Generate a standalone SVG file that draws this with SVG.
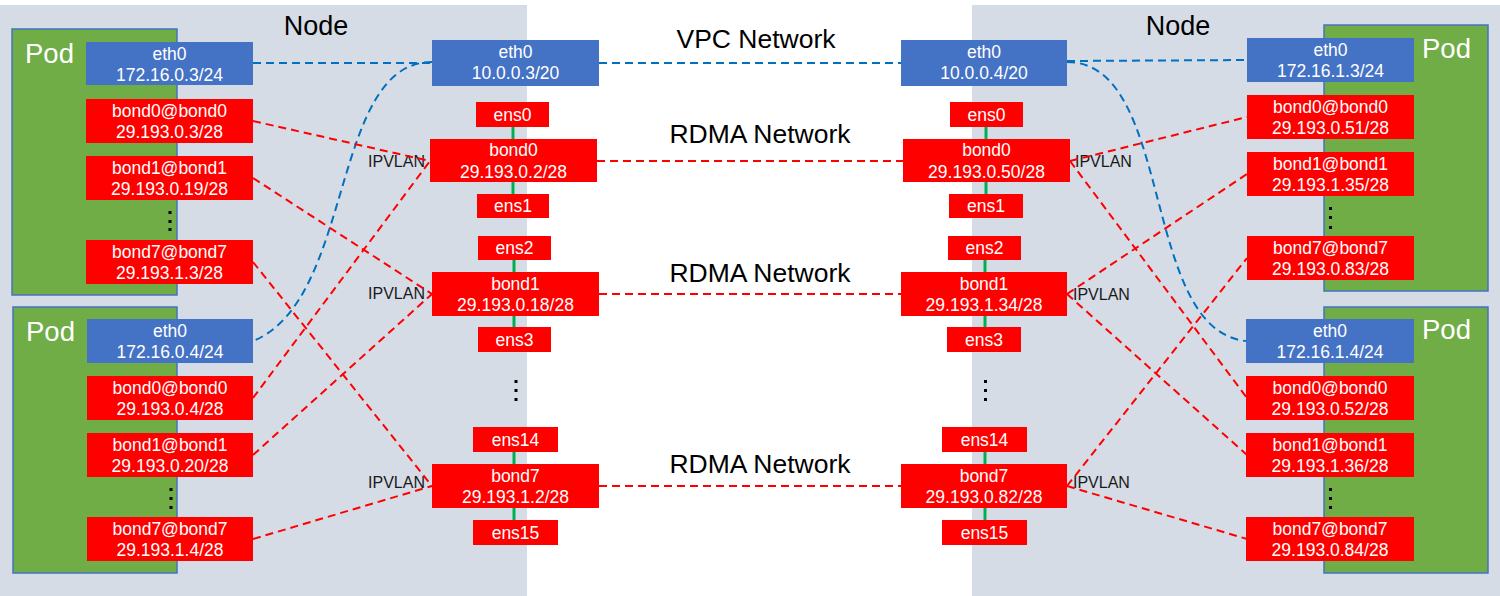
<svg xmlns="http://www.w3.org/2000/svg" width="1500" height="596" viewBox="0 0 1500 596">
<style>
.bg{fill:#D6DCE5}
.pod{fill:#70AD47;stroke:#4472C4;stroke-width:1.5}
.blue{fill:#4472C4}
.red{fill:#FF0000}
.t{font-family:"Liberation Sans",Arial,sans-serif;font-size:17.5px;fill:#FFFFFF;text-anchor:middle}
.podl{font-family:"Liberation Sans",Arial,sans-serif;font-size:27.5px;fill:#FFFFFF}
.nodel{font-family:"Liberation Sans",Arial,sans-serif;font-size:27px;fill:#000000;text-anchor:middle}
.net{font-family:"Liberation Sans",Arial,sans-serif;font-size:26.5px;fill:#000000;text-anchor:middle}
.ipv{font-family:"Liberation Sans",Arial,sans-serif;font-size:16px;fill:#1a1a1a}
.vpc{stroke:#0070C0;stroke-width:2;stroke-dasharray:8 5;fill:none}
.rdma{stroke:#FF0000;stroke-width:2;stroke-dasharray:8 5;fill:none}
.link{stroke:#00B050;stroke-width:3}
.dot{fill:#000000}
</style>
<rect width="1500" height="596" fill="#FFFFFF"/>

<g id="node-left">
<rect class="bg" x="0" y="5" width="527" height="591"/>
<text class="nodel" x="316" y="35">Node</text>
</g>
<g id="node-right">
<rect class="bg" x="972" y="5" width="528" height="591"/>
<text class="nodel" x="1178" y="35">Node</text>
</g>

<g id="pod-left-1">
<rect class="pod" x="12" y="29" width="165" height="266"/>
<text class="podl" x="25" y="63">Pod</text>
<rect class="dot" x="168.5" y="211" width="3" height="3"/>
<rect class="dot" x="168.5" y="220" width="3" height="3"/>
<rect class="dot" x="168.5" y="228" width="3" height="3"/>
</g>
<g id="pod-left-2">
<rect class="pod" x="13" y="307" width="164" height="266"/>
<text class="podl" x="26" y="341">Pod</text>
<rect class="dot" x="169.5" y="488" width="3" height="3"/>
<rect class="dot" x="169.5" y="497" width="3" height="3"/>
<rect class="dot" x="169.5" y="506" width="3" height="3"/>
</g>
<g id="pod-right-1">
<rect class="pod" x="1324" y="25" width="164" height="266"/>
<text class="podl" x="1422" y="58">Pod</text>
<rect class="dot" x="1329" y="207" width="3" height="3"/>
<rect class="dot" x="1329" y="216" width="3" height="3"/>
<rect class="dot" x="1329" y="226" width="3" height="3"/>
</g>
<g id="pod-right-2">
<rect class="pod" x="1324" y="307" width="164" height="266"/>
<text class="podl" x="1422" y="339">Pod</text>
<rect class="dot" x="1329" y="488" width="3" height="3"/>
<rect class="dot" x="1329" y="497" width="3" height="3"/>
<rect class="dot" x="1329" y="506" width="3" height="3"/>
</g>

<g id="labels">
<text class="net" x="756" y="48">VPC Network</text>
<text class="net" x="760" y="143">RDMA Network</text>
<text class="net" x="760" y="282">RDMA Network</text>
<text class="net" x="760" y="473">RDMA Network</text>
<text class="ipv" x="425" y="167" text-anchor="end">IPVLAN</text>
<text class="ipv" x="425" y="299" text-anchor="end">IPVLAN</text>
<text class="ipv" x="425" y="488" text-anchor="end">IPVLAN</text>
<text class="ipv" x="1075" y="167">IPVLAN</text>
<text class="ipv" x="1073" y="300">IPVLAN</text>
<text class="ipv" x="1073" y="488">IPVLAN</text>
<rect class="dot" x="514.5" y="380" width="3" height="3"/>
<rect class="dot" x="514.5" y="389" width="3" height="3"/>
<rect class="dot" x="514.5" y="398" width="3" height="3"/>
<rect class="dot" x="984" y="380" width="3" height="3"/>
<rect class="dot" x="984" y="389" width="3" height="3"/>
<rect class="dot" x="984" y="398" width="3" height="3"/>
</g>

<g id="connectors">
<line class="vpc" x1="253" y1="63" x2="432" y2="63"/>
<line class="vpc" x1="599" y1="63" x2="901" y2="63"/>
<line class="vpc" x1="1067" y1="61" x2="1247" y2="60"/>
<path class="vpc" d="M432,62 C330,62 355,300 253,341"/>
<path class="vpc" d="M1067,62 C1175,62 1140,330 1246,341"/>
<line class="rdma" x1="597" y1="161" x2="903" y2="161"/>
<line class="rdma" x1="599" y1="294" x2="901" y2="294"/>
<line class="rdma" x1="599" y1="486" x2="901" y2="486"/>
<line class="rdma" x1="253" y1="121" x2="430" y2="161"/>
<line class="rdma" x1="253" y1="178" x2="432" y2="294"/>
<line class="rdma" x1="253" y1="262" x2="432" y2="486"/>
<line class="rdma" x1="253" y1="398" x2="430" y2="161"/>
<line class="rdma" x1="253" y1="455" x2="432" y2="294"/>
<line class="rdma" x1="253" y1="539" x2="432" y2="486"/>
<line class="rdma" x1="1070" y1="161" x2="1247" y2="117"/>
<line class="rdma" x1="1070" y1="161" x2="1247" y2="398"/>
<line class="rdma" x1="1067" y1="294" x2="1247" y2="174"/>
<line class="rdma" x1="1067" y1="294" x2="1247" y2="455"/>
<line class="rdma" x1="1067" y1="486" x2="1247" y2="258"/>
<line class="rdma" x1="1067" y1="486" x2="1247" y2="539"/>
<line class="link" x1="513" y1="127" x2="513" y2="139"/>
<line class="link" x1="513" y1="182" x2="513" y2="194"/>
<line class="link" x1="514" y1="260" x2="514" y2="272"/>
<line class="link" x1="514" y1="316" x2="514" y2="327"/>
<line class="link" x1="514" y1="452" x2="514" y2="464"/>
<line class="link" x1="514" y1="508" x2="514" y2="520"/>
<line class="link" x1="986" y1="127" x2="986" y2="139"/>
<line class="link" x1="986" y1="182" x2="986" y2="194"/>
<line class="link" x1="985" y1="260" x2="985" y2="272"/>
<line class="link" x1="985" y1="316" x2="985" y2="327"/>
<line class="link" x1="985" y1="452" x2="985" y2="464"/>
<line class="link" x1="985" y1="508" x2="985" y2="520"/>
</g>

<!-- left pod 1 interfaces -->
<g id="lp1-eth0"><rect class="blue" x="86" y="42" width="167" height="43"/><text class="t" x="169.5" y="59.5">eth0</text><text class="t" x="169.5" y="80.5">172.16.0.3/24</text></g>
<g id="lp1-bond0"><rect class="red" x="86" y="99" width="167" height="44"/><text class="t" x="169.5" y="116.5">bond0@bond0</text><text class="t" x="169.5" y="137.5">29.193.0.3/28</text></g>
<g id="lp1-bond1"><rect class="red" x="86" y="156" width="167" height="44"/><text class="t" x="169.5" y="173.5">bond1@bond1</text><text class="t" x="169.5" y="194.5">29.193.0.19/28</text></g>
<g id="lp1-bond7"><rect class="red" x="86" y="240" width="167" height="44"/><text class="t" x="169.5" y="257.5">bond7@bond7</text><text class="t" x="169.5" y="278.5">29.193.1.3/28</text></g>
<!-- left pod 2 interfaces -->
<g id="lp2-eth0"><rect class="blue" x="87" y="319" width="166" height="44"/><text class="t" x="170" y="336.5">eth0</text><text class="t" x="170" y="357.5">172.16.0.4/24</text></g>
<g id="lp2-bond0"><rect class="red" x="87" y="376" width="166" height="44"/><text class="t" x="170" y="393.5">bond0@bond0</text><text class="t" x="170" y="414.5">29.193.0.4/28</text></g>
<g id="lp2-bond1"><rect class="red" x="87" y="433" width="166" height="44"/><text class="t" x="170" y="450.5">bond1@bond1</text><text class="t" x="170" y="471.5">29.193.0.20/28</text></g>
<g id="lp2-bond7"><rect class="red" x="87" y="517" width="166" height="44"/><text class="t" x="170" y="534.5">bond7@bond7</text><text class="t" x="170" y="555.5">29.193.1.4/28</text></g>

<!-- left node interfaces -->
<g id="ln-eth0"><rect class="blue" x="432" y="40" width="167" height="46"/><text class="t" x="515.5" y="58">eth0</text><text class="t" x="515.5" y="79">10.0.0.3/20</text></g>
<g id="ln-ens0"><rect class="red" x="476" y="102" width="73" height="25"/><text class="t" x="512.5" y="120.5">ens0</text></g>
<g id="ln-bond0"><rect class="red" x="430" y="139" width="167" height="43"/><text class="t" x="513.5" y="156">bond0</text><text class="t" x="513.5" y="178">29.193.0.2/28</text></g>
<g id="ln-ens1"><rect class="red" x="477" y="194" width="72" height="24"/><text class="t" x="513" y="212">ens1</text></g>
<g id="ln-ens2"><rect class="red" x="478" y="236" width="73" height="24"/><text class="t" x="514.5" y="254">ens2</text></g>
<g id="ln-bond1"><rect class="red" x="432" y="272" width="167" height="44"/><text class="t" x="515.5" y="289.5">bond1</text><text class="t" x="515.5" y="311">29.193.0.18/28</text></g>
<g id="ln-ens3"><rect class="red" x="478" y="327" width="73" height="25"/><text class="t" x="514.5" y="345.5">ens3</text></g>
<g id="ln-ens14"><rect class="red" x="473" y="427" width="85" height="25"/><text class="t" x="515.5" y="445.5">ens14</text></g>
<g id="ln-bond7"><rect class="red" x="432" y="464" width="167" height="44"/><text class="t" x="515.5" y="481.5">bond7</text><text class="t" x="515.5" y="503">29.193.1.2/28</text></g>
<g id="ln-ens15"><rect class="red" x="473" y="520" width="85" height="25"/><text class="t" x="515.5" y="538.5">ens15</text></g>

<!-- right node interfaces -->
<g id="rn-eth0"><rect class="blue" x="901" y="40" width="166" height="46"/><text class="t" x="984" y="58">eth0</text><text class="t" x="984" y="79">10.0.0.4/20</text></g>
<g id="rn-ens0"><rect class="red" x="950" y="102" width="73" height="25"/><text class="t" x="986.5" y="120.5">ens0</text></g>
<g id="rn-bond0"><rect class="red" x="903" y="139" width="167" height="43"/><text class="t" x="986.5" y="156">bond0</text><text class="t" x="986.5" y="178">29.193.0.50/28</text></g>
<g id="rn-ens1"><rect class="red" x="949" y="194" width="74" height="24"/><text class="t" x="986" y="212">ens1</text></g>
<g id="rn-ens2"><rect class="red" x="948" y="236" width="73" height="24"/><text class="t" x="984.5" y="254">ens2</text></g>
<g id="rn-bond1"><rect class="red" x="901" y="272" width="166" height="44"/><text class="t" x="984" y="289.5">bond1</text><text class="t" x="984" y="311">29.193.1.34/28</text></g>
<g id="rn-ens3"><rect class="red" x="947" y="327" width="74" height="25"/><text class="t" x="984" y="345.5">ens3</text></g>
<g id="rn-ens14"><rect class="red" x="942" y="427" width="85" height="25"/><text class="t" x="984.5" y="445.5">ens14</text></g>
<g id="rn-bond7"><rect class="red" x="901" y="464" width="166" height="44"/><text class="t" x="984" y="481.5">bond7</text><text class="t" x="984" y="503">29.193.0.82/28</text></g>
<g id="rn-ens15"><rect class="red" x="942" y="520" width="85" height="25"/><text class="t" x="984.5" y="538.5">ens15</text></g>

<!-- right pod 1 interfaces -->
<g id="rp1-eth0"><rect class="blue" x="1247" y="38" width="167" height="44"/><text class="t" x="1330.5" y="55.5">eth0</text><text class="t" x="1330.5" y="76.5">172.16.1.3/24</text></g>
<g id="rp1-bond0"><rect class="red" x="1247" y="95" width="167" height="44"/><text class="t" x="1330.5" y="112.5">bond0@bond0</text><text class="t" x="1330.5" y="133.5">29.193.0.51/28</text></g>
<g id="rp1-bond1"><rect class="red" x="1247" y="152" width="167" height="44"/><text class="t" x="1330.5" y="169.5">bond1@bond1</text><text class="t" x="1330.5" y="190.5">29.193.1.35/28</text></g>
<g id="rp1-bond7"><rect class="red" x="1247" y="236" width="167" height="44"/><text class="t" x="1330.5" y="253.5">bond7@bond7</text><text class="t" x="1330.5" y="274.5">29.193.0.83/28</text></g>
<!-- right pod 2 interfaces -->
<g id="rp2-eth0"><rect class="blue" x="1246" y="319" width="168" height="44"/><text class="t" x="1330" y="336.5">eth0</text><text class="t" x="1330" y="357.5">172.16.1.4/24</text></g>
<g id="rp2-bond0"><rect class="red" x="1246" y="376" width="168" height="44"/><text class="t" x="1330" y="393.5">bond0@bond0</text><text class="t" x="1330" y="414.5">29.193.0.52/28</text></g>
<g id="rp2-bond1"><rect class="red" x="1246" y="433" width="168" height="44"/><text class="t" x="1330" y="450.5">bond1@bond1</text><text class="t" x="1330" y="471.5">29.193.1.36/28</text></g>
<g id="rp2-bond7"><rect class="red" x="1246" y="517" width="168" height="44"/><text class="t" x="1330" y="534.5">bond7@bond7</text><text class="t" x="1330" y="555.5">29.193.0.84/28</text></g>
</svg>
